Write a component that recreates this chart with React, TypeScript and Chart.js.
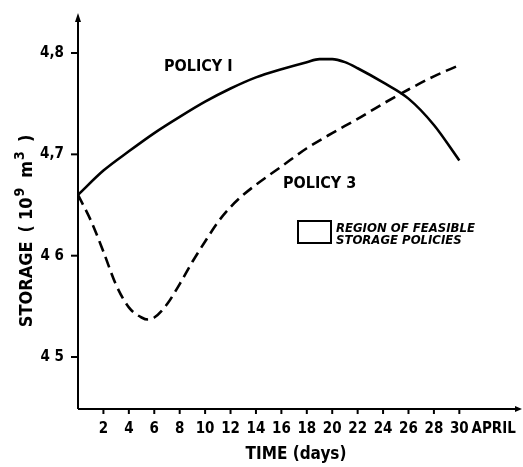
import React, { useEffect, useRef } from "react";
import { Chart, registerables } from "chart.js";

Chart.register(...registerables);

// ---- data ----
const policy1Days = [0, 2, 4, 6, 8, 10, 12, 14, 16, 18, 19, 20, 21, 22, 24, 26, 28, 30];
const policy1Storage = [4.66, 4.684, 4.703, 4.721, 4.737, 4.752, 4.765, 4.776, 4.784, 4.791, 4.794, 4.794, 4.791, 4.785, 4.771, 4.755, 4.729, 4.694];

const policy3Days = [0, 1, 2, 3, 4, 5, 5.5, 6, 7, 8, 9, 10, 11, 12, 13, 14, 16, 18, 20, 22, 24, 26, 28, 30];
const policy3Storage = [4.66, 4.635, 4.604, 4.571, 4.549, 4.539, 4.537, 4.539, 4.552, 4.572, 4.594, 4.614, 4.633, 4.648, 4.66, 4.67, 4.688, 4.706, 4.721, 4.735, 4.75, 4.764, 4.777, 4.788];

const yTickValues = [4.5, 4.6, 4.7, 4.8];
const yTickLabels = ["4 5", "4 6", "4,7", "4,8"];
const xTickValues = [2, 4, 6, 8, 10, 12, 14, 16, 18, 20, 22, 24, 26, 28, 30];
const xTickLabels = ["2", "4", "6", "8", "10", "12", "14", "16", "18", "20", "22", "24", "26", "28", "30"];
const monthLabel = "APRIL";
const monthLabelDay = 32.7;

const xTitle = "TIME (days)";
// y title pieces: [text, isSuperscript, gapAfter]
const yTitleParts: [string, boolean, number][] = [
  ["STORAGE", false, 9],
  ["(", false, 5],
  ["10", false, 1],
  ["9", true, 10],
  ["m", false, 1],
  ["3", true, 9],
  [")", false, 0],
];
const policy1Label = "POLICY I";
const policy3Label = "POLICY 3";
const legendLines = ["REGION OF FEASIBLE", "STORAGE POLICIES"];

const FONT = "'Liberation Sans Narrow', 'DejaVu Sans Condensed', 'Roboto', sans-serif";

const drawPlugin = {
  id: "scanFigure",
  afterDraw(chart: any) {
    const ctx = chart.ctx as CanvasRenderingContext2D;
    const xs = chart.scales.x;
    const ys = chart.scales.y;
    const area = chart.chartArea;
    const x0 = xs.getPixelForValue(0);
    const yb = area.bottom;
    ctx.save();
    ctx.strokeStyle = "#000";
    ctx.fillStyle = "#000";
    ctx.lineWidth = 2;
    // axes
    ctx.beginPath();
    ctx.moveTo(x0, yb);
    ctx.lineTo(x0, area.top + 4);
    ctx.moveTo(x0, yb);
    ctx.lineTo(area.right - 3, yb);
    ctx.stroke();
    // arrow heads
    ctx.beginPath();
    ctx.moveTo(x0, area.top);
    ctx.lineTo(x0 - 3, area.top + 9);
    ctx.lineTo(x0 + 3, area.top + 9);
    ctx.closePath();
    ctx.fill();
    ctx.beginPath();
    ctx.moveTo(area.right, yb);
    ctx.lineTo(area.right - 7, yb - 3);
    ctx.lineTo(area.right - 7, yb + 3);
    ctx.closePath();
    ctx.fill();

    // y ticks
    ctx.font = `bold 15px ${FONT}`;
    ctx.textAlign = "right";
    ctx.textBaseline = "middle";
    yTickValues.forEach((v, i) => {
      const py = ys.getPixelForValue(v);
      ctx.beginPath();
      ctx.moveTo(x0 - 7, py);
      ctx.lineTo(x0, py);
      ctx.stroke();
      ctx.fillText(yTickLabels[i], x0 - 14, py);
    });

    // x ticks
    ctx.textAlign = "center";
    xTickValues.forEach((v, i) => {
      const px = xs.getPixelForValue(v);
      ctx.beginPath();
      ctx.moveTo(px, yb);
      ctx.lineTo(px, yb + 5);
      ctx.stroke();
      ctx.fillText(xTickLabels[i], px, yb + 20);
    });
    ctx.fillText(monthLabel, xs.getPixelForValue(monthLabelDay), yb + 20);

    // x title
    ctx.font = `bold 17px ${FONT}`;
    ctx.fillText(xTitle, 296, yb + 46);

    // y title (rotated, with superscripts)
    const mainFont = `bold 18px ${FONT}`;
    const supFont = `bold 14px ${FONT}`;
    let total = 0;
    yTitleParts.forEach(([t, sup, gap]) => {
      ctx.font = sup ? supFont : mainFont;
      total += ctx.measureText(t).width + gap;
    });
    ctx.save();
    ctx.translate(25, 231);
    ctx.rotate(-Math.PI / 2);
    ctx.textAlign = "left";
    ctx.textBaseline = "alphabetic";
    let cx = -total / 2;
    yTitleParts.forEach(([t, sup, gap]) => {
      ctx.font = sup ? supFont : mainFont;
      ctx.fillText(t, cx, sup ? -1 : 7);
      cx += ctx.measureText(t).width + gap;
    });
    ctx.restore();

    // curve labels
    ctx.font = `bold 16px ${FONT}`;
    ctx.textAlign = "left";
    ctx.textBaseline = "middle";
    ctx.fillText(policy1Label, 164, 67);
    ctx.fillText(policy3Label, 283, 184);

    // legend box
    ctx.lineWidth = 2;
    ctx.strokeRect(298, 221, 33, 22);
    ctx.font = `italic bold 13px ${FONT}`;
    ctx.textBaseline = "alphabetic";
    ctx.fillText(legendLines[0], 336, 232);
    ctx.fillText(legendLines[1], 336, 244);
    ctx.restore();
  },
};

export default function App() {
  const ref = useRef<HTMLCanvasElement>(null);
  useEffect(() => {
    document.body.style.margin = "0";
    const canvas = ref.current!;
    const chart = new Chart(canvas, {
      type: "line",
      data: {
        datasets: [
          {
            label: "Policy 1",
            data: policy1Days.map((d, i) => ({ x: d, y: policy1Storage[i] })),
            borderColor: "#000",
            borderWidth: 2.6,
            pointRadius: 0,
            cubicInterpolationMode: "monotone",
            fill: false,
          },
          {
            label: "Policy 3",
            data: policy3Days.map((d, i) => ({ x: d, y: policy3Storage[i] })),
            borderColor: "#000",
            borderWidth: 2.6,
            borderDash: [11, 6],
            pointRadius: 0,
            cubicInterpolationMode: "monotone",
            fill: false,
          },
        ],
      },
      options: {
        responsive: false,
        animation: false,
        devicePixelRatio: 1,
        layout: { padding: { left: 78, right: 1, top: 13, bottom: 58 } },
        plugins: { legend: { display: false }, tooltip: { enabled: false } },
        scales: {
          x: { type: "linear", min: 0, max: 34.93, display: false },
          y: { type: "linear", min: 4.4487, max: 4.8395, display: false },
        },
      },
      plugins: [drawPlugin],
    });
    return () => chart.destroy();
  }, []);
  return (
    <div style={{ width: 523, height: 467, background: "#fff" }}>
      <canvas ref={ref} width={523} height={467} style={{ display: "block" }} />
    </div>
  );
}
